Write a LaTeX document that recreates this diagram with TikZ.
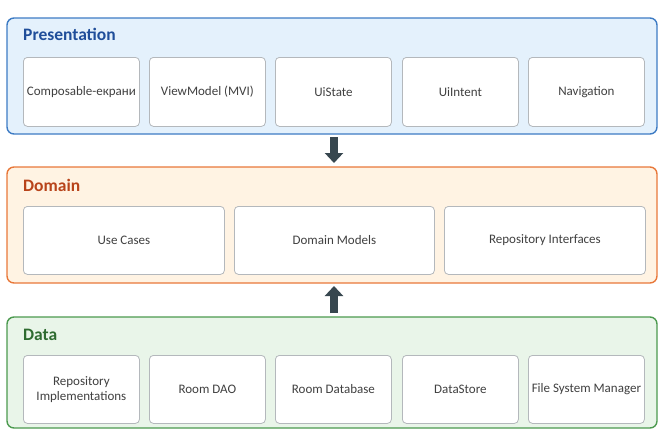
\documentclass[tikz,border=0pt]{standalone}
\usepackage{fontspec}
\setmainfont{Carlito}
\usetikzlibrary{arrows.meta}

\definecolor{presFill}{HTML}{E4F1FC}
\definecolor{presLine}{HTML}{3D7BC4}
\definecolor{presText}{HTML}{1F4E9A}
\definecolor{domFill}{HTML}{FFF3E3}
\definecolor{domLine}{HTML}{E8783A}
\definecolor{domText}{HTML}{B8431A}
\definecolor{datFill}{HTML}{E9F5E9}
\definecolor{datLine}{HTML}{4C9A4F}
\definecolor{datText}{HTML}{2E6B30}
\definecolor{cellLine}{HTML}{B4B8BC}
\definecolor{cellText}{HTML}{404040}
\definecolor{arrowCol}{HTML}{37474F}

\tikzset{
  layer/.style={draw=#1, line width=1.4pt, rounded corners=7pt},
  layertitle/.style={anchor=west, font=\fontsize{17.5}{20}\selectfont\bfseries, inner sep=0pt},
  cell/.style={draw=cellLine, fill=white, line width=0.8pt, rounded corners=4pt,
    align=center, text=cellText, font=\fontsize{13}{15}\selectfont},
  flow/.style={draw=arrowCol, line width=8.5pt,
    -{Triangle[width=18pt,length=10pt]}}
}

\begin{document}
\begin{tikzpicture}[x=1pt,y=-1pt]
\useasboundingbox (0,0) rectangle (660,429);
\clip (0,0) rectangle (660,429);

% Presentation layer
\draw[layer=presLine, fill=presFill] (7,18) rectangle (657,134);
\node[layertitle, text=presText] (presT) at (23,34) {Presentation};
\foreach \n/\x/\t in {p1/23/Composable-екрани, p2/149/ViewModel (MVI), p3/275/UiState, p4/402/UiIntent, p5/528/Navigation}{
  \node[cell, minimum width=116pt, minimum height=69pt, anchor=north west] (\n) at (\x,57) {\t};
}

% Domain layer
\draw[layer=domLine, fill=domFill] (7,167) rectangle (657,283);
\node[layertitle, text=domText] (domT) at (23,185) {Domain};
\node[cell, minimum width=201pt, minimum height=68pt, anchor=north west] (d1) at (23,206) {Use Cases};
\node[cell, minimum width=200pt, minimum height=68pt, anchor=north west] (d2) at (234,206) {Domain Models};
\node[cell, minimum width=201pt, minimum height=68pt, anchor=north west] (d3) at (444,206) {Repository Interfaces};

% Data layer
\draw[layer=datLine, fill=datFill] (7,317) rectangle (657,428);
\node[layertitle, text=datText] (datT) at (23,335) {Data};
\foreach \n/\x/\t in {r1/23/{Repository\\Implementations}, r2/149/Room DAO, r3/275/Room Database, r4/402/DataStore, r5/528/File System Manager}{
  \node[cell, minimum width=116pt, minimum height=68pt, anchor=north west] (\n) at (\x,355) {\t};
}

% Dependency arrows between layers
\coordinate (a1s) at (334,137);
\coordinate (a1e) at (334,163);
\coordinate (a2s) at (334,313);
\coordinate (a2e) at (334,286);
\draw[flow] (a1s) -- (a1e);
\draw[flow] (a2s) -- (a2e);
\end{tikzpicture}
\end{document}
